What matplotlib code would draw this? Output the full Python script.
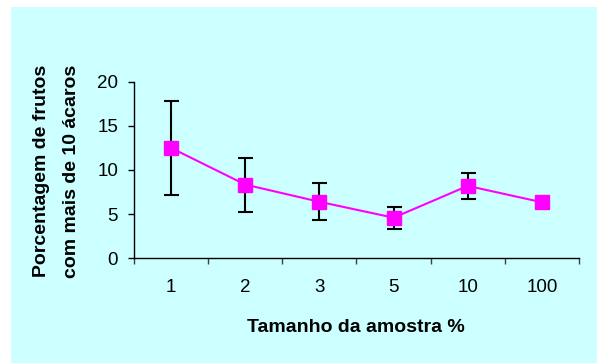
import numpy as np
import matplotlib
matplotlib.use('Agg')
import matplotlib.pyplot as plt
from matplotlib.patches import Rectangle

# Data
categories = ['1', '2', '3', '5', '10', '100']
percent = [12.5, 8.35, 6.4, 4.6, 8.2, 6.35]
errors = [5.3, 3.05, 2.1, 1.25, 1.45, 0.35]
y_ticks = [0, 5, 10, 15, 20]

plt.rcParams['font.family'] = ['Liberation Sans', 'DejaVu Sans']

W, H = 598, 363
fig = plt.figure(figsize=(W / 100, H / 100), dpi=100, facecolor='white')

# Cyan chart area with white strip on top and left
fig.patches.append(Rectangle((11 / W, 0), (597 - 11) / W, (H - 7) / H,
                             transform=fig.transFigure, facecolor='#CCFFFF',
                             edgecolor='none', zorder=-10))

ax = fig.add_axes([134 / W, (H - 258.3) / H, (579 - 134) / W, (258.3 - 81.7) / H])
ax.set_facecolor('none')
ax.set_zorder(1)

x = np.arange(len(categories))
ax.errorbar(x, percent, yerr=errors, fmt='none', ecolor='black',
            elinewidth=1.5, capsize=5.4, capthick=1.5, zorder=2)
ax.plot(x, percent, color='#FF00FF', linewidth=1.5, marker='s',
        markersize=9.8, markerfacecolor='#FF00FF', markeredgecolor='#FF00FF',
        zorder=3)

ax.set_xlim(-0.5, len(categories) - 0.5)
ax.set_ylim(0, 20)
ax.set_yticks(y_ticks)

# category axis: tick marks between categories, labels at centres
ax.set_xticks(np.arange(len(categories) + 1) - 0.5)
ax.set_xticklabels([])
ax.set_xticks(x, minor=True)
ax.set_xticklabels(categories, minor=True)
ax.tick_params(axis='x', which='major', direction='out', length=4, width=1, color='#404040')
ax.tick_params(axis='x', which='minor', length=0, pad=15, labelsize=13.5)
ax.tick_params(axis='y', direction='out', length=4.5, width=1, pad=7, labelsize=13.5)

for side in ['top', 'right']:
    ax.spines[side].set_visible(False)
for side in ['left', 'bottom']:
    ax.spines[side].set_linewidth(1)
    ax.spines[side].set_color('black')

fig.text(356 / W, 1 - 328 / H, 'Tamanho da amostra %', ha='center', va='center',
         fontsize=14, fontweight='bold')
fig.text(42 / W, 1 - 171 / H, 'Porcentagem de frutos', ha='center', va='center',
         rotation=90, fontsize=14, fontweight='bold')
fig.text(72 / W, 1 - 171 / H, 'com mais de 10 ácaros', ha='center', va='center',
         rotation=90, fontsize=14, fontweight='bold')

fig.savefig('out.png', dpi=100, facecolor='white')
